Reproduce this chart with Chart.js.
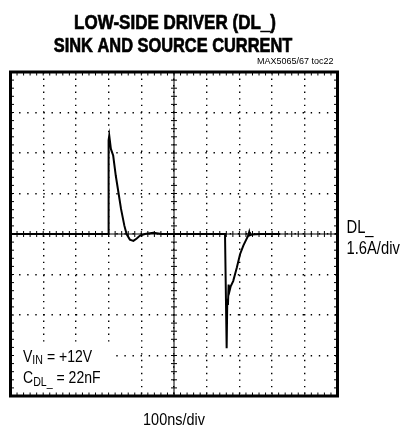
<!DOCTYPE html>
<html>
<head>
<meta charset="utf-8">
<script src="https://cdn.jsdelivr.net/npm/chart.js@4"></script>
<style>
  body { margin: 0; background: #fff; }
  #wrap { width: 409px; height: 433px; position: relative; }
</style>
</head>
<body>
<div id="wrap"><canvas id="scopeChart"></canvas></div>
<script>
// trace: time in ns, current in A
const timesNs = [0, 299, 300, 302, 307, 314, 322, 330, 338, 348, 355, 365, 376, 386, 396, 411, 437, 462,
    656, 661, 663, 665, 667, 670, 673, 681, 692, 702, 712, 722, 727, 730, 732, 738, 763, 825];
const currentA = [0, 0, 3.70, 3.89, 3.36, 3.10, 2.30, 1.65, 0.99, 0.34, 0, -0.22, -0.27, -0.18, -0.06, 0, 0.05, 0,
    0, -4.51, -2.56, -2.80, -2.00, -2.24, -2.08, -1.86, -1.33, -0.80, -0.46, -0.19, -0.06, 0.08, -0.05, -0.02, 0, 0];

const titleLines = ['LOW-SIDE DRIVER (DL_)', 'SINK AND SOURCE CURRENT'];
const partLabel = 'MAX5065/67 toc22';
const timeLabel = '100ns/div';
const channelLabel = ['DL_', '1.6A/div'];

const xMin = 0, xMax = 1000, xStep = 100;
const yMin = -6.4, yMax = 6.4, yStep = 1.6;

const FONT = "'Liberation Sans', Arial, sans-serif";

// no narrow face installed, so squeeze the text horizontally
function narrowText(ctx, text, x, y, font, align, sx, heavy) {
    ctx.save();
    ctx.font = font;
    ctx.textAlign = align;
    ctx.translate(x, y);
    ctx.scale(sx, 1);
    ctx.fillText(text, 0, 0);
    if (heavy) {
        ctx.lineWidth = heavy;
        ctx.strokeText(text, 0, 0);
    }
    const w = ctx.measureText(text).width * sx;
    ctx.restore();
    return w;
}

// scope frame, center axes with minor ticks, labels
const scopePlugin = {
    id: 'scope',
    beforeDatasetsDraw(chart) {
        const { ctx, chartArea: a, scales: { x, y } } = chart;
        ctx.save();
        // white box behind the conditions text
        const boxTop = y.getPixelForValue(-4.3);
        ctx.fillStyle = '#fff';
        ctx.fillRect(a.left, boxTop, x.getPixelForValue(312) - a.left, a.bottom - boxTop);
        ctx.strokeStyle = '#000';
        ctx.lineWidth = 1;
        const x0 = x.getPixelForValue(500), y0 = y.getPixelForValue(0);
        ctx.beginPath();
        ctx.moveTo(a.left, y0); ctx.lineTo(a.right, y0);
        ctx.moveTo(x0, a.top); ctx.lineTo(x0, a.bottom);
        // minor ticks, 5 per division
        for (let i = 0; i <= 50; i++) {
            const px = x.getPixelForValue(xMin + i * xStep / 5);
            ctx.moveTo(px, y0 - 3); ctx.lineTo(px, y0 + 3);
            ctx.moveTo(px, a.top); ctx.lineTo(px, a.top + 3.5);
            ctx.moveTo(px, a.bottom); ctx.lineTo(px, a.bottom - 3.5);
        }
        for (let i = 0; i <= 40; i++) {
            const py = y.getPixelForValue(yMin + i * yStep / 5);
            ctx.moveTo(x0 - 3, py); ctx.lineTo(x0 + 3, py);
            ctx.moveTo(a.left, py); ctx.lineTo(a.left + 3.5, py);
            ctx.moveTo(a.right, py); ctx.lineTo(a.right - 3.5, py);
        }
        ctx.stroke();
        ctx.restore();
    },
    afterDatasetsDraw(chart) {
        const { ctx, chartArea: a, scales: { y } } = chart;
        ctx.save();
        ctx.strokeStyle = '#000';
        ctx.lineWidth = 3;
        ctx.strokeRect(a.left, a.top, a.right - a.left, a.bottom - a.top);

        ctx.fillStyle = '#000';
        ctx.textBaseline = 'alphabetic';
        const cx = (a.left + a.right) / 2;

        // title
        narrowText(ctx, titleLines[0], cx + 1, 28.5, 'bold 21px ' + FONT, 'center', 0.81, 0.7);
        narrowText(ctx, titleLines[1], cx - 1, 51.8, 'bold 21px ' + FONT, 'center', 0.78, 0.7);
        narrowText(ctx, partLabel, a.right - 4, 64, '9px ' + FONT, 'right', 1);

        // time base
        narrowText(ctx, timeLabel, cx, 425, '17px ' + FONT, 'center', 0.85);

        // channel label on the right
        const y0 = y.getPixelForValue(0);
        narrowText(ctx, channelLabel[0], a.right + 9, y0 - 1.5, '18px ' + FONT, 'left', 0.82);
        narrowText(ctx, channelLabel[1], a.right + 9, y0 + 19.5, '18px ' + FONT, 'left', 0.82);

        // conditions, with subscripts
        const line = (main, subText, rest, by) => {
            let lx = a.left + 12.5;
            lx += narrowText(ctx, main, lx, by, '16.5px ' + FONT, 'left', 0.85);
            lx += narrowText(ctx, subText, lx, by + 2.5, '12.5px ' + FONT, 'left', 0.85);
            narrowText(ctx, rest, lx, by, '16.5px ' + FONT, 'left', 0.85);
        };
        line('V', 'IN', ' = +12V', 361.7);
        line('C', 'DL_', ' = 22nF', 383.3);
        ctx.restore();
    }
};

const ctx = document.getElementById('scopeChart').getContext('2d');
new Chart(ctx, {
    type: 'line',
    data: {
        datasets: [{
            data: timesNs.map((t, i) => ({ x: t, y: currentA[i] })),
            borderColor: '#000',
            borderWidth: 2,
            pointRadius: 0,
            tension: 0,
            fill: false
        }]
    },
    options: {
        responsive: true,
        maintainAspectRatio: false,
        animation: false,
        layout: { padding: { left: 10.5, right: 71.5, top: 72, bottom: 37 } },
        plugins: {
            legend: { display: false },
            tooltip: { enabled: false },
            title: { display: false }
        },
        scales: {
            x: {
                type: 'linear',
                min: xMin,
                max: xMax,
                ticks: { display: false, stepSize: xStep },
                border: { display: false, dash: [1.4, 5.14] },
                grid: { color: '#000', lineWidth: 1.4, drawTicks: false }
            },
            y: {
                min: yMin,
                max: yMax,
                ticks: { display: false, stepSize: yStep },
                border: { display: false, dash: [1.4, 6.7] },
                grid: { color: '#000', lineWidth: 1.4, drawTicks: false }
            }
        }
    },
    plugins: [scopePlugin]
});
</script>
</body>
</html>
